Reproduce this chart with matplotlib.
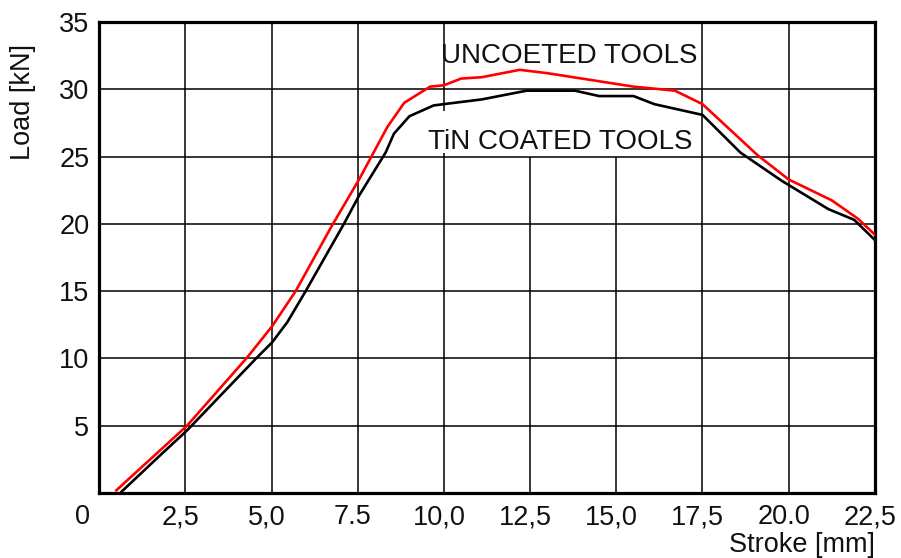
import matplotlib
matplotlib.use("Agg")
import matplotlib.pyplot as plt
from matplotlib.transforms import ScaledTranslation

plt.rcParams['font.family'] = ['Liberation Sans', 'DejaVu Sans']

# uncoated tools (red)
stroke_uncoated = [0.5, 2.55, 4.29, 5.02, 5.7, 6.76, 7.54, 8.36, 8.85, 9.6, 10.0,
                   10.5, 11.1, 12.2, 13.0, 14.5, 15.5, 16.7, 17.5, 19.1, 20.0,
                   21.25, 22.0, 22.5]
load_uncoated = [0.2, 5.0, 10.06, 12.4, 15.0, 19.9, 23.3, 27.2, 29.0, 30.2, 30.3,
                 30.8, 30.9, 31.45, 31.2, 30.6, 30.2, 29.9, 28.9, 25.1, 23.3,
                 21.75, 20.4, 19.2]

# TiN coated tools (black)
stroke_tin = [0.61, 1.77, 2.55, 4.53, 5.02, 5.46, 5.99, 7.1, 7.54, 8.31, 8.55,
              9.0, 9.7, 10.0, 11.1, 12.4, 13.8, 14.5, 15.5, 16.1, 16.8, 17.5,
              18.6, 19.8, 21.15, 21.9, 22.5]
load_tin = [0.0, 2.8, 4.65, 9.94, 11.2, 12.7, 15.0, 20.0, 22.1, 25.3, 26.7,
            28.0, 28.8, 28.9, 29.25, 29.9, 29.9, 29.5, 29.5, 28.9, 28.5, 28.1,
            25.3, 23.2, 21.1, 20.3, 18.8]

x_ticks = [0, 2.5, 5.0, 7.5, 10.0, 12.5, 15.0, 17.5, 20.0, 22.5]
x_tick_labels = ['0', '2,5', '5,0', '7.5', '10,0', '12,5', '15,0', '17,5', '20.0', '22,5']
y_ticks = [5, 10, 15, 20, 25, 30, 35]

fig = plt.figure(figsize=(9.01, 5.58), dpi=100)
ax = fig.add_axes([0.110, 0.1165, 0.861, 0.844])
ax.set_xlim(0, 22.5)
ax.set_ylim(0, 35)

# grid drawn by hand: some vertical lines are hidden behind the text labels
for yv in y_ticks[:-1]:
    ax.axhline(yv, color='black', lw=1.1, zorder=2)
for xv in x_ticks[1:-1]:
    if xv == 10.0:
        segs = [(0, 25.3), (28.4, 35)]
    elif xv in (12.5, 15.0):
        segs = [(0, 25.0)]
    else:
        segs = [(0, 35)]
    for y0, y1 in segs:
        ax.vlines(xv, y0, y1, color='black', lw=1.1, zorder=2)

ax.plot(stroke_tin, load_tin, color='black', lw=1.9, zorder=3)
ax.plot(stroke_uncoated, load_uncoated, color='#ff0000', lw=1.9, zorder=4)

ax.text(9.91, 31.96, 'UNCOETED TOOLS', fontsize=20, color='#111111',
        ha='left', va='baseline', zorder=5)
ax.text(9.53, 25.56, 'TiN COATED TOOLS', fontsize=20, color='#111111',
        ha='left', va='baseline', zorder=5)

ax.set_xticks(x_ticks)
ax.set_xticklabels(x_tick_labels)
ax.set_yticks(y_ticks)
ax.tick_params(length=0, labelsize=19.5, colors='#111111')
ax.tick_params(axis='x', pad=8)
ax.tick_params(axis='y', pad=7)
for i, lab in enumerate(ax.get_xticklabels()):
    dx = -17 if i == 0 else -5
    lab.set_transform(lab.get_transform() + ScaledTranslation(dx / 100, 0, fig.dpi_scale_trans))

for sp in ax.spines.values():
    sp.set_linewidth(2.3)
    sp.set_color('black')

fig.text(0.025, 1 - 102 / 558, 'Load [kN]', rotation=90, fontsize=19.5,
         ha='center', va='center', color='#111111')
fig.text(875 / 901, 1 - 545 / 558, 'Stroke [mm]', fontsize=19.5,
         ha='right', va='center', color='#111111')

fig.savefig('out.png', dpi=100)
